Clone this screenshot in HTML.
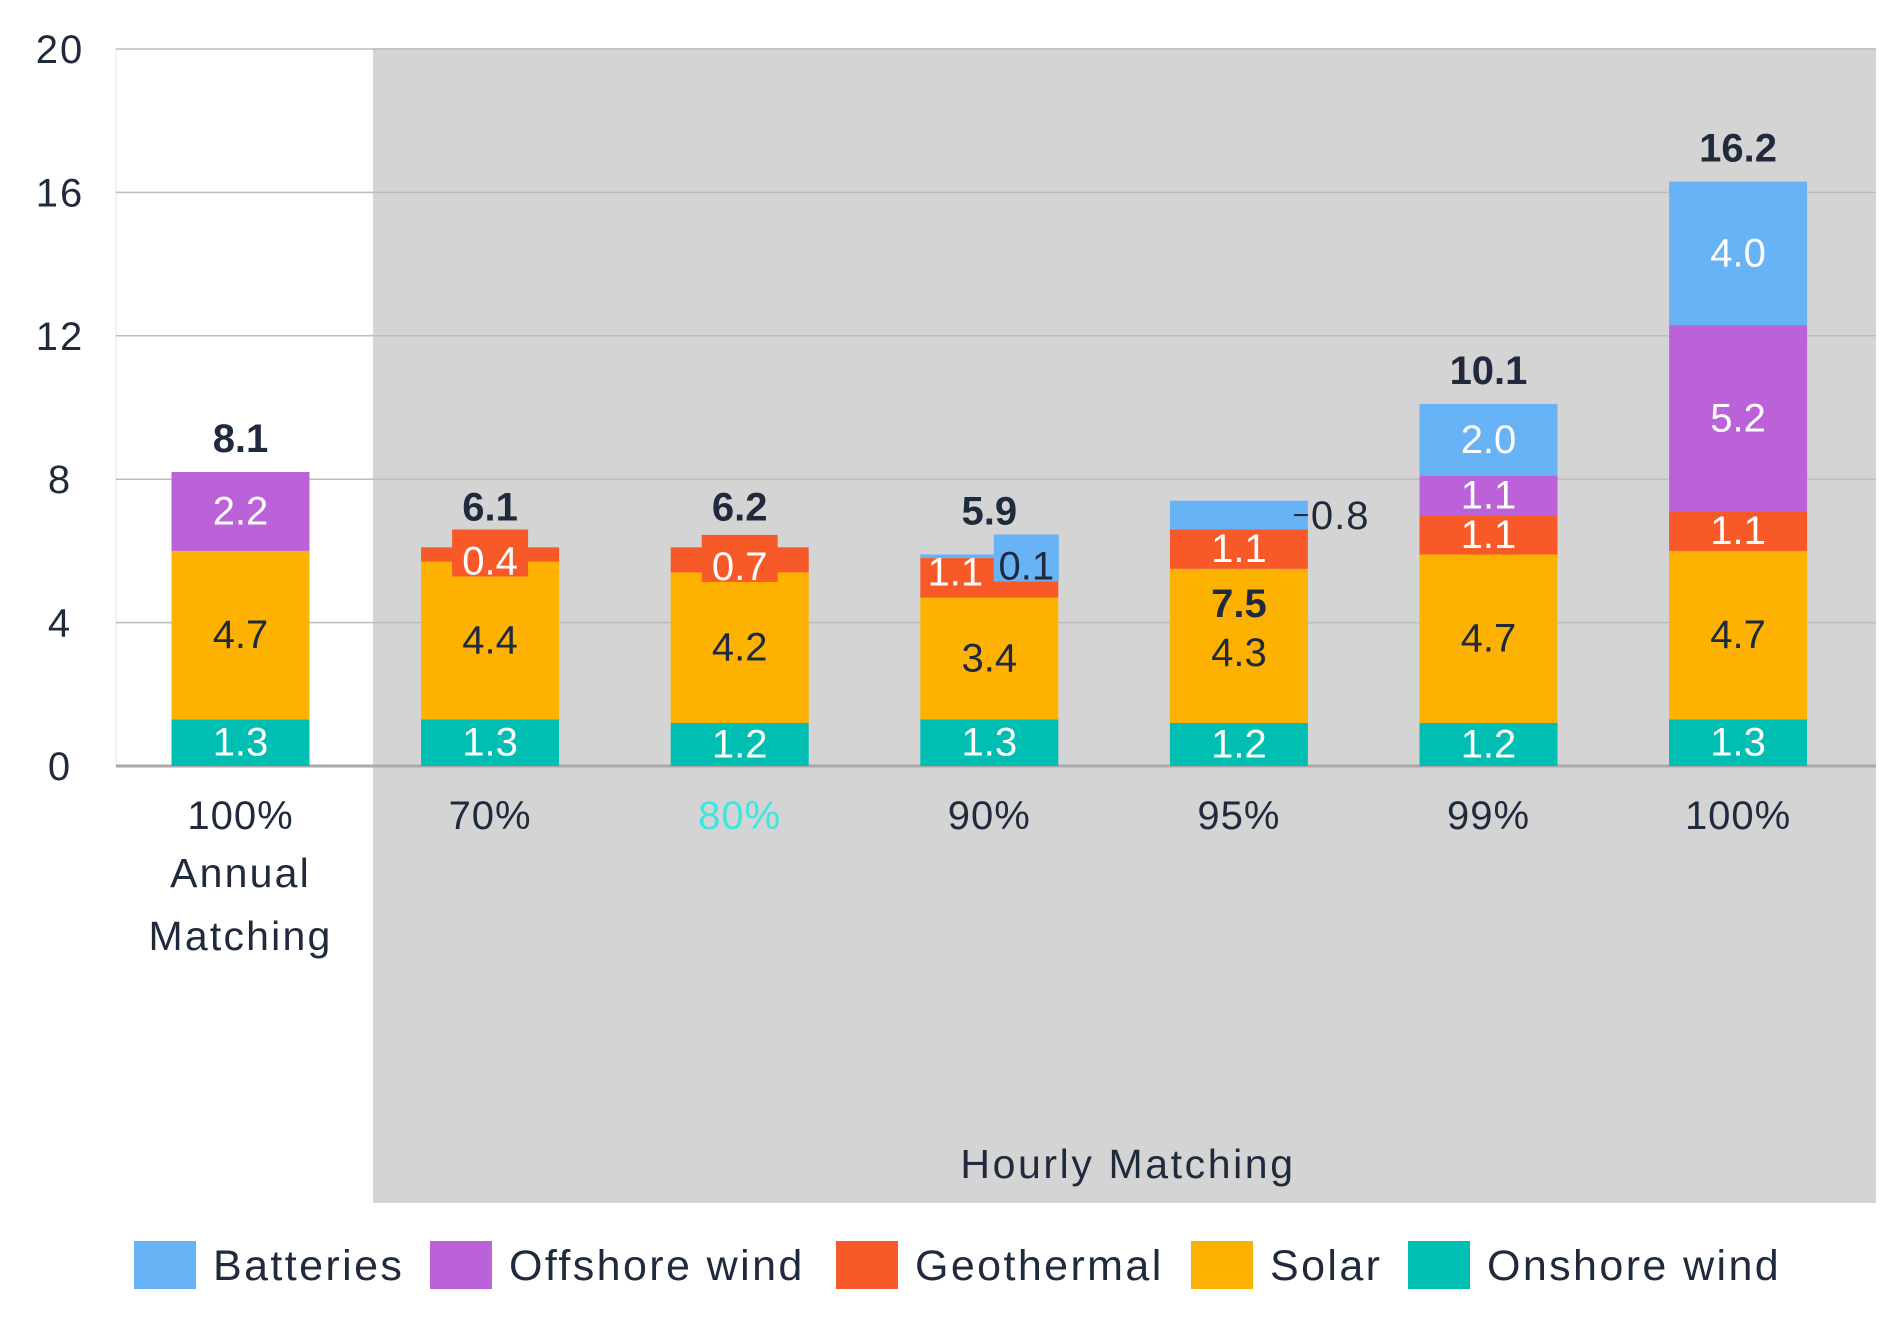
<!DOCTYPE html>
<html><head><meta charset="utf-8"><style>
html,body{margin:0;padding:0;background:#fff;}
svg{display:block;font-family:"Liberation Sans",sans-serif;}
</style></head><body>
<svg id="c" width="1892" height="1318" viewBox="0 0 1892 1318" xmlns="http://www.w3.org/2000/svg">
<rect x="0" y="0" width="1892" height="1318" fill="#fff"/>
<rect x="373" y="48" width="1503" height="1155" fill="#d4d4d4"/>
<line x1="116" y1="48" x2="116" y2="766" stroke="#e4e4e4" stroke-width="1"/>
<g id="grid"></g><g id="bars"></g><g id="labels"></g>
<text x="1128" y="1178" text-anchor="middle" font-size="41" letter-spacing="2.6" fill="#1f2a3c">Hourly Matching</text>
<g id="legend"></g>
</svg>
<script>
const categories=["100%","70%","80%","90%","95%","99%","100%"];
const onshore=[1.3,1.3,1.2,1.3,1.2,1.2,1.3];
const solar=[4.7,4.4,4.2,3.4,4.3,4.7,4.7];
const geothermal=[0,0.4,0.7,1.1,1.1,1.1,1.1];
const offshore=[2.2,0,0,0,0,1.1,5.2];
const batteries=[0,0,0,0.1,0.8,2.0,4.0];
const totals=[8.1,6.1,6.2,5.9,7.5,10.1,16.2];
const yTicks=[0,4,8,12,16,20];
const seriesNames=["Batteries","Offshore wind","Geothermal","Solar","Onshore wind"];
const colors={"Onshore wind":"#00bfb2","Solar":"#fdb201","Geothermal":"#f85929","Offshore wind":"#bb62d9","Batteries":"#68b2f6"};
const NS="http://www.w3.org/2000/svg";
const y0=766,pxPer=35.85;
const y=v=>y0-v*pxPer;
const x=i=>240.5+i*249.6;
const bw=138;
function mk(tag,attrs,parent,txt){const e=document.createElementNS(NS,tag);for(const k in attrs)e.setAttribute(k,attrs[k]);if(txt!==undefined)e.textContent=txt;parent.appendChild(e);return e;}
const grid=document.getElementById('grid'),bars=document.getElementById('bars'),labels=document.getElementById('labels'),legend=document.getElementById('legend');
yTicks.forEach(t=>{
 if(t>0){const l=mk('line',{x1:116,x2:1876,y1:y(t),y2:y(t),stroke:'#bdbdbd','stroke-width':1.5},grid);
 
 }
 const tx=mk('text',{x:60,y:y(t)+14,'text-anchor':'middle','font-size':40,'letter-spacing':2,fill:'#1f2a3c'},grid,String(t));
 
 
});
const base=mk('line',{x1:116,x2:1876,y1:y0,y2:y0,stroke:'#aaaaaa','stroke-width':3},grid);


const order=[["Onshore wind",onshore],["Solar",solar],["Geothermal",geothermal],["Offshore wind",offshore],["Batteries",batteries]];
categories.forEach((c,i)=>{
 let acc=0;const cx=x(i);
 order.forEach(([name,arr])=>{
  const v=arr[i];if(!v)return;
  const top=y(acc+v),bot=y(acc);
  const r=mk('rect',{x:cx-bw/2,y:top,width:bw,height:bot-top,fill:colors[name]},bars);
  
  
  const mid=(top+bot)/2;
  let lx=cx,ly=mid+13,txtCol=(name==="Solar")?'#1f2a3c':'#fff',box=false;
  if(v<1&&name==="Geothermal"){box=true;ly=mid+20;}
  if(name==="Geothermal"&&i===3){lx=cx-34;ly=bot-12;}
  if(name==="Batteries"&&i===3){lx=cx+37;box=true;ly=top+25;txtCol='#1f2a3c';}
  if(name==="Batteries"&&i===4){
   mk('line',{x1:cx+55,x2:cx+69,y1:mid,y2:mid,stroke:'#1f2a3c','stroke-width':2},labels);
   const t=mk('text',{x:cx+72,y:mid+14,'font-size':40,'letter-spacing':1,fill:'#1f2a3c'},labels,v.toFixed(1));
   
   
   acc+=v;return;}
  if(name==="Solar"&&i===4){ly=mid+20;}
  if(box){const bwid=(i===3?65:76);mk('rect',{x:lx-bwid/2,y:ly-45,width:bwid,height:47,fill:colors[name]},labels);}
  const t=mk('text',{x:lx,y:ly,'text-anchor':'middle','font-size':40,fill:txtCol},labels,v.toFixed(1));
  
  
  acc+=v;
 });
 let ty=y(acc)-20;
 if(i===1||i===2)ty=y(acc)-27; if(i===3)ty=y(acc)-30;
 if(i===4)ty=y(onshore[i]+solar[i])+48;
 const tt=mk('text',{x:cx,y:ty,'text-anchor':'middle','font-size':40,'font-weight':'bold',fill:'#1f2a3c'},labels,totals[i].toFixed(1));
 
 
 const cl=mk('text',{x:cx,y:829,'text-anchor':'middle','font-size':40,'letter-spacing':1,fill:i===2?'#3ee6e0':'#1f2a3c'},labels,c);
 
 
});
[["Annual",887],["Matching",950]].forEach(([s,yy])=>{const t=mk('text',{x:x(0),y:yy,'text-anchor':'middle','font-size':41,'letter-spacing':2.2,fill:'#1f2a3c'},labels,s);

});
const lx=[134,430,836,1191,1408];
seriesNames.forEach((n,k)=>{
 const sw=mk('rect',{x:lx[k],y:1241,width:62,height:48,fill:colors[n]},legend);
 
 
 const t=mk('text',{x:lx[k]+79,y:1280,'font-size':43,'letter-spacing':2.4,fill:'#1f2a3c'},legend,n);
 
 
});
</script>
</body></html>
